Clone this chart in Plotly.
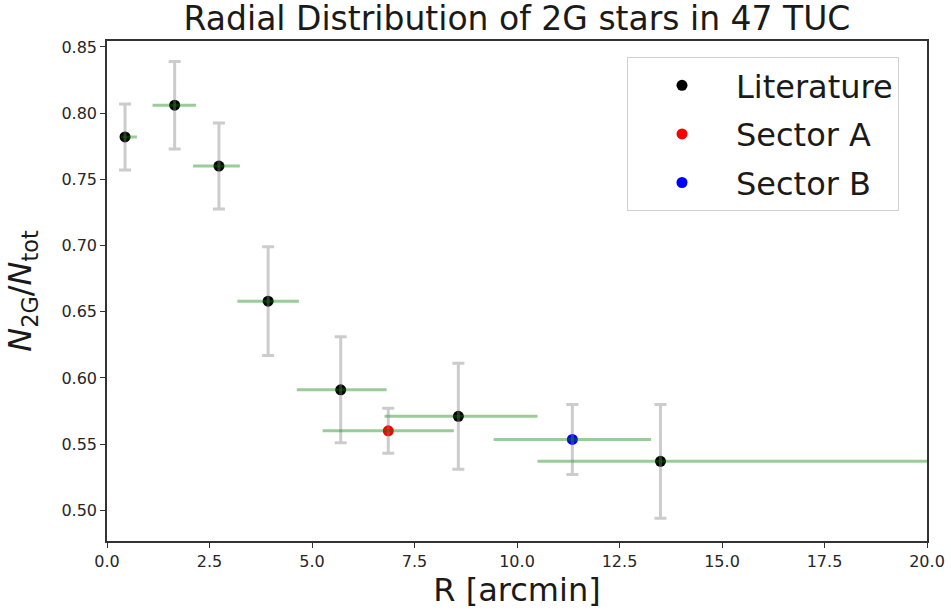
import plotly.graph_objects as go

# Literature
lit_r = [0.44, 1.65, 2.73, 3.93, 5.70, 8.57, 13.50]
lit_f = [0.782, 0.806, 0.760, 0.658, 0.591, 0.571, 0.537]
lit_ferr = [0.025, 0.033, 0.0325, 0.041, 0.040, 0.040, 0.043]
lit_rerr_minus = [0.10, 0.54, 0.63, 0.75, 1.07, 1.80, 3.00]
lit_rerr_plus = [0.29, 0.52, 0.51, 0.75, 1.12, 1.93, 7.00]

# Sector A
a_r = [6.86]
a_f = [0.560]
a_ferr = [0.017]
a_rerr = [1.60]

# Sector B
b_r = [11.35]
b_f = [0.5535]
b_ferr = [0.0265]
b_rerr = [1.92]

x_ticks = [0, 2.5, 5, 7.5, 10, 12.5, 15, 17.5, 20]
y_ticks = [0.50, 0.55, 0.60, 0.65, 0.70, 0.75, 0.80, 0.85]

FONT = "DejaVu Sans"
GRAY_ERR = "rgba(128,128,128,0.4)"
GREEN_ERR = "rgba(0,128,0,0.4)"

W, H = 951, 614
ML, MT, MR, MB = 107, 41, 24, 73
PW, PH = W - ML - MR, H - MT - MB

fig = go.Figure()

series = [
    ("Literature", "black", lit_r, lit_f, lit_ferr, lit_rerr_plus, lit_rerr_minus),
    ("Sector A", "red", a_r, a_f, a_ferr, a_rerr, a_rerr),
    ("Sector B", "blue", b_r, b_f, b_ferr, b_rerr, b_rerr),
]

for name, col, xr, yf, yerr, xp, xm in series:
    fig.add_trace(go.Scatter(
        x=xr, y=yf, mode="markers", name=name,
        legendgroup=name,
        marker=dict(color=col, size=11),
        showlegend=True,
    ))

for name, col, xr, yf, yerr, xp, xm in series:
    fig.add_trace(go.Scatter(
        x=xr, y=yf, mode="markers", showlegend=False, hoverinfo="skip",
        marker=dict(color=col, size=11, opacity=0),
        error_y=dict(type="data", array=yerr, color=GRAY_ERR, thickness=3, width=6),
        error_x=dict(type="data", array=xp, arrayminus=xm, symmetric=False,
                     color=GREEN_ERR, thickness=3, width=0),
    ))

fig.update_layout(
    width=W, height=H,
    margin=dict(l=ML, r=MR, t=MT, b=MB, autoexpand=False),
    paper_bgcolor="white", plot_bgcolor="white",
    font=dict(family=FONT, color="#262626"),
    title=dict(text="Radial Distribution of 2G stars in 47 TUC",
               x=0.5, xref="paper", xanchor="center",
               y=1 - 18 / H, yref="container", yanchor="middle",
               font=dict(family=FONT, size=33, color="#1a1a1a")),
    legend=dict(x=(627 - ML) / PW, y=1 - (57 - MT) / PH, xanchor="left", yanchor="top",
                bgcolor="white", bordercolor="#d0d0d0", borderwidth=1,
                font=dict(family=FONT, size=32, color="#1a1a1a"),
                itemwidth=98, traceorder="grouped", tracegroupgap=4),
    showlegend=True,
)

fig.update_xaxes(
    range=[0, 20], tickvals=x_ticks, tickformat=".1f",
    ticks="outside", ticklen=5, tickcolor="#333", tickfont=dict(size=16),
    showline=True, linecolor="#333", linewidth=1.5, mirror=True,
    showgrid=False, zeroline=False, automargin=False,
    title=dict(text="R [arcmin]", font=dict(size=32, color="#1a1a1a"), standoff=6),
)
fig.update_yaxes(
    range=[0.4768, 0.8545], tickvals=y_ticks, tickformat=".2f",
    ticks="outside", ticklen=5, tickcolor="#333", tickfont=dict(size=16),
    showline=True, linecolor="#333", linewidth=1.5, mirror=True,
    showgrid=False, zeroline=False, automargin=False,
    title=dict(text="<i>N</i><sub>2G</sub>/<i>N</i><sub>tot</sub>",
               font=dict(size=32, color="#1a1a1a"), standoff=20),
)

fig.write_html("out.html",
               config={"displayModeBar": False},
               post_script="document.body.style.margin='0';document.body.style.overflow='hidden';")
